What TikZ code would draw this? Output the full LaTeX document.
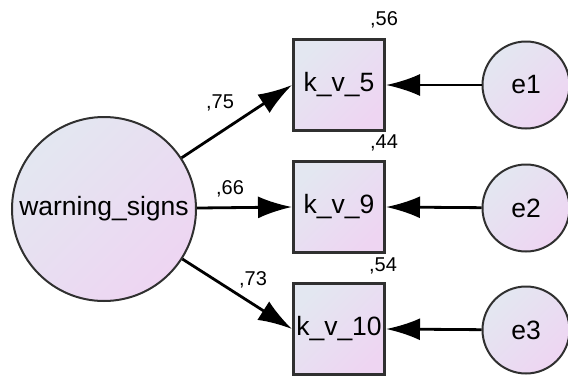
\documentclass[tikz,border=0pt]{standalone}
\usepackage{fontspec}
\setmainfont{Liberation Sans}
\usetikzlibrary{arrows.meta}
\definecolor{fillA}{HTML}{E3E7F1}
\definecolor{fillB}{HTML}{EED5F2}
\definecolor{edgec}{HTML}{303030}
\begin{document}
\begin{tikzpicture}[x=1pt,y=-1pt,
  latent/.style={circle,draw=edgec,line width=2pt,top color=fillA,bottom color=fillB,shading angle=45,inner sep=0pt,font=\fontsize{26.5}{30}\selectfont},
  obs/.style={rectangle,draw=edgec,line width=3pt,top color=fillA,bottom color=fillB,shading angle=45,minimum width=91pt,minimum height=91pt,inner sep=0pt,font=\fontsize{26.5}{30}\selectfont},
  path/.style={line width=2.8pt,black,-{Latex[length=34pt,width=22pt]}},
  coef/.style={font=\fontsize{20}{22}\selectfont,inner sep=0pt}]
\useasboundingbox (0,0) rectangle (568,378);
\node[latent,minimum size=184pt] (ws) at (104,209) {warning\_signs};
\node[obs] (k5) at (339,85) {k\_v\_5};
\node[obs] (k9) at (339,207) {k\_v\_9};
\node[obs] (k10) at (339,329) {k\_v\_10};
\node[latent,minimum size=87pt] (e1) at (526,85) {e1};
\node[latent,minimum size=87pt] (e2) at (526,208) {e2};
\node[latent,minimum size=87pt] (e3) at (526,330) {e3};
\draw[path] (ws) -- (k5.west);
\draw[path] (ws) -- (k9.west);
\draw[path] (ws) -- (k10.west);
\draw[path] (e1) -- (k5.east);
\draw[path] (e2) -- (k9.east);
\draw[path] (e3) -- (k10.east);
\node[coef] (l75) at (220,103) {,75};
\node[coef] (l66) at (230,189) {,66};
\node[coef] (l73) at (253,280) {,73};
\node[coef] (l56) at (384,20) {,56};
\node[coef] (l44) at (384,143) {,44};
\node[coef] (l54) at (383,266) {,54};
\end{tikzpicture}
\end{document}
